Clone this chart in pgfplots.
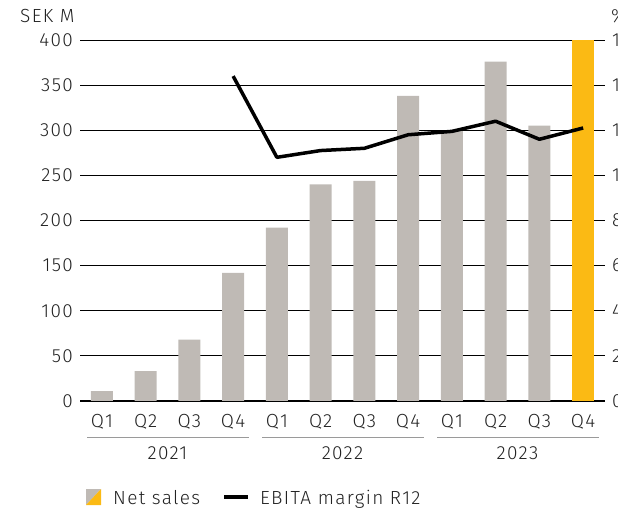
\documentclass[border=0pt]{standalone}
\usepackage{pgfplots}
\pgfplotsset{compat=1.18}
\usepackage{fontspec}
\setmainfont{Fira Sans}[UprightFont=* Light, LetterSpace=7]
\definecolor{barGrey}{HTML}{BFBAB5}
\definecolor{barYellow}{HTML}{FBBA14}
\definecolor{groupLine}{HTML}{9A9A9A}
\definecolor{txt}{HTML}{222222}
\tikzset{grp/.style={groupLine, line width=0.9pt}}

\begin{document}
\begin{tikzpicture}[x=1pt,y=1pt,font=\fontsize{19}{22}\selectfont\color{txt}]
\pgfplotsset{
  base/.style={
    at={(80pt,0pt)}, anchor=south west, scale only axis,
    width=525pt, height=361pt,
    xmin=-0.5, xmax=11.5, ymin=0,
    /pgf/number format/assume math mode=true,
    tick label style={font=\fontsize{19}{22}\selectfont\color{txt}},
    major tick length=0pt,
  },
}
\begin{axis}[base,
  ymax=400,
  axis x line*=bottom, axis y line*=left,
  x axis line style={black, line width=1.4pt, -},
  y axis line style={draw=none},
  ymajorgrids, major grid style={black, line width=0.8pt},
  ytick={0,50,...,400},
  yticklabel style={anchor=east, inner sep=0pt, xshift=-7pt},
  xtick={0,...,11},
  xticklabels={Q1,Q2,Q3,Q4,Q1,Q2,Q3,Q4,Q1,Q2,Q3,Q4},
  xticklabel style={anchor=base, inner sep=0pt, yshift=-27pt},
  ybar, bar width=22pt, bar shift=0pt,
  clip=false,
]
  % net sales, SEK M
  \addplot[fill=barGrey, draw=none] coordinates {
    (0,11) (1,33) (2,68) (3,142) (4,192) (5,240) (6,244) (7,338)
    (8,299) (9,376) (10,305)};
  \addplot[fill=barYellow, draw=none] coordinates {(11,400)};

  % year groups
  \draw[grp] ([yshift=-36pt]axis cs:-0.33,0) -- ([yshift=-36pt]axis cs:3.36,0);
  \draw[grp] ([yshift=-36pt]axis cs:3.67,0) -- ([yshift=-36pt]axis cs:7.36,0);
  \draw[grp] ([yshift=-36pt]axis cs:7.67,0) -- ([yshift=-36pt]axis cs:11.36,0);
  \node[anchor=base] at ([yshift=-58pt]axis cs:1.5,0) {2021};
  \node[anchor=base] at ([yshift=-58pt]axis cs:5.5,0) {2022};
  \node[anchor=base] at ([yshift=-58pt]axis cs:9.5,0) {2023};
\end{axis}

\begin{axis}[base,
  ymax=16,
  axis x line=none, axis y line*=right,
  y axis line style={draw=none},
  ytick={0,2,...,16},
  yticklabel style={anchor=west, inner sep=0pt, xshift=7pt},
  clip=false,
]
  % EBITA margin R12, %
  \addplot[black, line width=3.5pt, line join=round] coordinates {
    (3,14.4) (4,10.8) (5,11.1) (6,11.2) (7,11.8)
    (8,11.95) (9,12.4) (10,11.6) (11,12.1)};
\end{axis}

\node[anchor=base west, inner sep=0pt] at (20,378) {SEK M};
\node[anchor=base west, inner sep=0pt] at (611,378) {\%};

% legend
\fill[barGrey] (86,-104) -- (86,-88) -- (101,-88) -- cycle;
\fill[barYellow] (86,-104) -- (101,-104) -- (101,-88) -- cycle;
\node[anchor=base west, inner sep=0pt] at (113,-103) {Net sales};
\draw[black, line width=3.5pt] (224,-96) -- (248,-96);
\node[anchor=base west, inner sep=0pt] at (260,-103) {EBITA margin R12};

\pgfresetboundingbox
\path[use as bounding box] (0,-107) rectangle (618,401);
\end{tikzpicture}
\end{document}
